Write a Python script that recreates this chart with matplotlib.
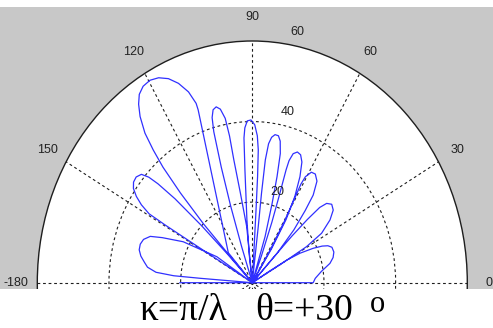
import numpy as np
import matplotlib.pyplot as plt
from matplotlib.patches import Circle

# Polar grid settings
RMAX = 60
ring_ticks = [20, 40, 60]
spoke_angles = [0, 30, 60, 90, 120, 150]
angle_label_pos = [0, 30, 60, 90, 120, 150, 180]
angle_labels = ["0", "30", "60", "90", "120", "150", "-180"]

# Radiation pattern (angle in degrees, radius), lobe by lobe from 0 to 180
pattern_theta = [
    0, 0,
    3.5, 8.3, 12.5, 15.5, 18.5, 21.6, 23.5, 25, 26.7, 28.8, 30.3, 31, 31,
    30, 30, 30.6, 32.4, 35.7, 38.6, 41.3, 43.5, 44.8, 45.6, 46.3, 46.8, 47,
    46, 46.5, 48.5, 50.5, 52, 54.4, 56.9, 59, 60.6, 61, 60.5, 59.5, 58.5, 58,
    57, 57.5, 59, 61, 63.2, 65.2, 67, 68.8, 70.4, 71.3, 71.4, 70.8, 70, 69, 68.5,
    72.5, 72.7, 74.3, 75.3, 76.3, 77.5, 78.7, 80.2, 81.5, 82.5, 83.2, 83.4, 83.2, 83,
    86.7, 86.7, 86.8, 87.1, 87.8, 89, 90.5, 92, 93.1, 93.7, 94.2, 95.5, 97, 97.5,
    96, 96.4, 98.5, 99.6, 99.9, 100.5, 101.7, 103, 104.3, 105.3, 106, 106.8, 107.6, 108.4, 109,
    # main lobe
    132.5, 132, 109.4, 109.4, 110.6, 112.6, 114.8, 117.2, 119.6, 122, 124, 125.6,
    127.2, 128.9, 130, 131, 132, 133, 133.3, 133.5,
    134, 134.3, 135, 136, 137, 137.8, 139, 141, 143, 144.8, 146.5, 148, 149.3, 149.5, 149.5, 149.5,
    145, 146.9, 152.2, 156, 158, 160.5, 163, 165.5, 168, 170.5, 172.5, 174.5, 175.5, 175.7, 176,
    180,
]
pattern_r = [
    0, 17,
    17.6, 19.5, 22.2, 23.4, 24, 23.9, 23, 21.5, 19, 15.2, 11.1, 5, 0,
    0, 10, 17.6, 22.9, 26.7, 28.9, 29.5, 28.6, 26.5, 22, 16, 8, 0,
    0, 10, 17.5, 23.2, 27.6, 31, 32.2, 32, 30.2, 28, 23.7, 17.3, 9.8, 0,
    0, 10, 18.3, 24.5, 29.5, 33, 34.5, 34.8, 34, 32, 29.6, 22.7, 15.9, 7, 0,
    0, 12, 20.4, 27.2, 33, 36, 37.2, 37.3, 36.5, 34.8, 30.7, 22.4, 14, 0,
    0, 18.1, 26.4, 33, 36.5, 39.2, 40.4, 40.2, 38.5, 36, 28.1, 15.7, 7, 0,
    0, 14, 22.5, 31, 37, 41.5, 44, 44.8, 44.3, 42.5, 39, 30, 20, 9.4, 0,
    0, 10, 45.5, 47.2, 50.6, 53.6, 55.8, 57.2, 57.8, 57.5, 56.4, 54.5,
    51.8, 47.7, 43, 38, 30, 20, 10, 0,
    0, 10, 20, 30, 36, 39, 41, 41.7, 41.5, 40.6, 38.8, 36.5, 33.5, 28, 15, 0,
    0, 11.8, 21.8, 27.5, 30.7, 32.2, 32.7, 32.6, 31.8, 30.5, 29.5, 27, 22, 14.6, 0,
    20.2,
]

# pixel layout of the polar area inside the figure
W, H = 493, 328
cx, cy = 252.3, 282.7          # origin
sx, sy = 215.0 / RMAX, 241.7 / RMAX
top_px, bot_px = 7, 289

fig = plt.figure(figsize=(W / 100, H / 100), dpi=100)
fig.patch.set_facecolor("white")
ax = fig.add_axes([0, (H - bot_px) / H, 1, (bot_px - top_px) / H])
ax.set_xlim(-cx / sx, (W - cx) / sx)
ax.set_ylim((cy - bot_px) / sy, (cy - top_px) / sy)
ax.set_facecolor("#c8c8c8")
for s in ax.spines.values():
    s.set_visible(False)
ax.set_xticks([])
ax.set_yticks([])

grid_kw = dict(color="#1e1e1e", lw=0.8, ls=(0, (2.5, 2.5)))

# white plot disc with solid outer edge
ax.add_patch(Circle((0, 0), RMAX, facecolor="white", edgecolor="#1e1e1e",
                    lw=1.0, zorder=1))
for r in ring_ticks[:-1]:
    ax.add_patch(Circle((0, 0), r, fill=False, zorder=2, **grid_kw))
for a in spoke_angles:
    t = np.radians(a)
    ax.plot([-RMAX * np.cos(t), RMAX * np.cos(t)],
            [-RMAX * np.sin(t), RMAX * np.sin(t)], zorder=2, **grid_kw)

# pattern curve
th = np.radians(pattern_theta)
rr = np.array(pattern_r)
ax.plot(rr * np.cos(th), rr * np.sin(th), color="#3030ff", lw=0.9, zorder=3,
        solid_joinstyle="round")

lab_kw = dict(fontsize=9, family="Liberation Sans", color="#222222", zorder=4)

# angle labels
rt = 1.1 * RMAX
for a, s in zip(angle_label_pos, angle_labels):
    t = np.radians(a)
    ax.text(rt * np.cos(t), rt * np.sin(t), s, ha="center", va="center", **lab_kw)

# radial labels
c82, s82 = np.cos(np.radians(82)), np.sin(np.radians(82))
for r in ring_ticks:
    ax.text(r * c82 + 2.3, r * s82 + 2.0, str(r), ha="left", va="baseline", **lab_kw)

# caption under the plot
cap_kw = dict(va="baseline", family="Liberation Serif", color="black")
fig.text(183 / W, 8.5 / H, "\u03ba=\u03c0/\u03bb", ha="center", fontsize=27, **cap_kw)
fig.text(255 / W, 8.5 / H, "\u03b8=+30", ha="left", fontsize=27, **cap_kw)
fig.text(370 / W, 16 / H, "o", ha="left", fontsize=22, **cap_kw)

fig.savefig("out.png", dpi=100)
